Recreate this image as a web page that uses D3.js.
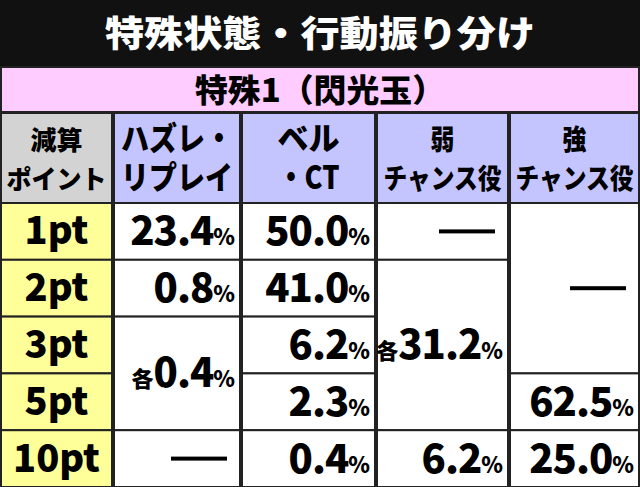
<!DOCTYPE html>
<html><head><meta charset="utf-8">
<script src="https://cdn.jsdelivr.net/npm/d3@7"></script>
<style>body{margin:0;background:#000;} svg{display:block;font-family:"Noto Sans CJK JP",sans-serif;font-weight:900;}</style>
</head><body>
<script>
const title = "特殊状態・行動振り分け";
const subtitle = "特殊1（閃光玉）";
const headers = [["減算", "ポイント"], ["ハズレ・", "リプレイ"], ["ベル", "・CT"], ["弱", "チャンス役"], ["強", "チャンス役"]];
const rowLabels = ["1pt", "2pt", "3pt", "5pt", "10pt"];
// cells: row, col (1-based data columns), rowspan, prefix, value
const cells = [
  {r: 0, c: 1, span: 1, pre: "", v: "23.4"},
  {r: 1, c: 1, span: 1, pre: "", v: "0.8"},
  {r: 2, c: 1, span: 2, pre: "各", v: "0.4"},
  {r: 4, c: 1, span: 1, pre: "", v: null},
  {r: 0, c: 2, span: 1, pre: "", v: "50.0"},
  {r: 1, c: 2, span: 1, pre: "", v: "41.0"},
  {r: 2, c: 2, span: 1, pre: "", v: "6.2"},
  {r: 3, c: 2, span: 1, pre: "", v: "2.3"},
  {r: 4, c: 2, span: 1, pre: "", v: "0.4"},
  {r: 0, c: 3, span: 1, pre: "", v: null},
  {r: 1, c: 3, span: 3, pre: "各", v: "31.2"},
  {r: 4, c: 3, span: 1, pre: "", v: "6.2"},
  {r: 0, c: 4, span: 3, pre: "", v: null},
  {r: 3, c: 4, span: 1, pre: "", v: "62.5"},
  {r: 4, c: 4, span: 1, pre: "", v: "25.0"}
];

const W = 640, H = 487;
const colEdges = [0, 113, 241, 376, 509, 640];
const x = i => colEdges[i];
const y = d3.scaleLinear().domain([0, 5]).range([203, 487]);

const svg = d3.select("body").append("svg").attr("width", W).attr("height", H);
svg.append("rect").attr("width", W).attr("height", H).attr("fill", "#111");

// title
svg.append("text").attr("x", W / 2).attr("y", 47).attr("text-anchor", "middle")
  .attr("font-size", 36).attr("fill", "#fff").attr("textLength", 430).attr("lengthAdjust", "spacingAndGlyphs")
  .text(title);

const line = "#222";
// subtitle band
svg.append("rect").attr("x", 1).attr("y", 67).attr("width", W - 2).attr("height", 45)
  .attr("fill", "#ffccff").attr("stroke", line).attr("stroke-width", 2);
svg.append("text").attr("x", W / 2).attr("y", 102).attr("text-anchor", "middle")
  .attr("font-size", 32).attr("fill", "#000").attr("textLength", 250).attr("lengthAdjust", "spacingAndGlyphs")
  .text(subtitle);

// header
const hdrLen = [[52, 100], [112, 112], [62, 62], [24, 118], [24, 118]];
headers.forEach((h, i) => {
  svg.append("rect").attr("x", x(i) + 1).attr("y", 113).attr("width", x(i + 1) - x(i) - 2).attr("height", y(0) - 113)
    .attr("fill", i === 0 ? "#d3d3d3" : "#c4c4ff").attr("stroke", line).attr("stroke-width", 2);
  const cx = (x(i) + x(i + 1)) / 2;
  const fs = i === 0 ? 26 : (i >= 3 ? 28 : 32);
  h.forEach((t, k) => {
    svg.append("text").attr("x", cx).attr("y", 150 + k * 39).attr("text-anchor", "middle")
      .attr("font-size", fs).attr("fill", "#000")
      .attr("textLength", hdrLen[i][k]).attr("lengthAdjust", "spacingAndGlyphs").text(t);
  });
});

// row labels
rowLabels.forEach((t, r) => {
  svg.append("rect").attr("x", 1).attr("y", y(r)).attr("width", x(1) - 2).attr("height", y(r + 1) - y(r))
    .attr("fill", "#ffff99").attr("stroke", line).attr("stroke-width", 2);
  svg.append("text").attr("x", x(1) / 2).attr("y", (y(r) + y(r + 1)) / 2 + 13).attr("text-anchor", "middle")
    .attr("font-size", 38).attr("fill", "#000").text(t);
});

// body cells
cells.forEach(d => {
  const x0 = x(d.c), x1 = x(d.c + 1), y0 = y(d.r), y1 = y(d.r + d.span);
  svg.append("rect").attr("x", x0 + 1).attr("y", y0).attr("width", x1 - x0 - 2).attr("height", y1 - y0)
    .attr("fill", "#fff").attr("stroke", line).attr("stroke-width", 2);
  const cy = (y0 + y1) / 2;
  if (d.v === null) {
    svg.append("rect").attr("x", x1 - 70).attr("y", cy - 2).attr("width", 56).attr("height", 4).attr("fill", "#000");
    return;
  }
  const t = svg.append("text").attr("x", x1 - 6).attr("y", cy + 14).attr("text-anchor", "end").attr("fill", "#000");
  if (d.pre) t.append("tspan").attr("font-size", 22).text(d.pre);
  t.append("tspan").attr("font-size", 40).attr("letter-spacing", -1).text(d.v);
  t.append("tspan").attr("font-size", 22).text("%");
});
</script>
</body></html>
